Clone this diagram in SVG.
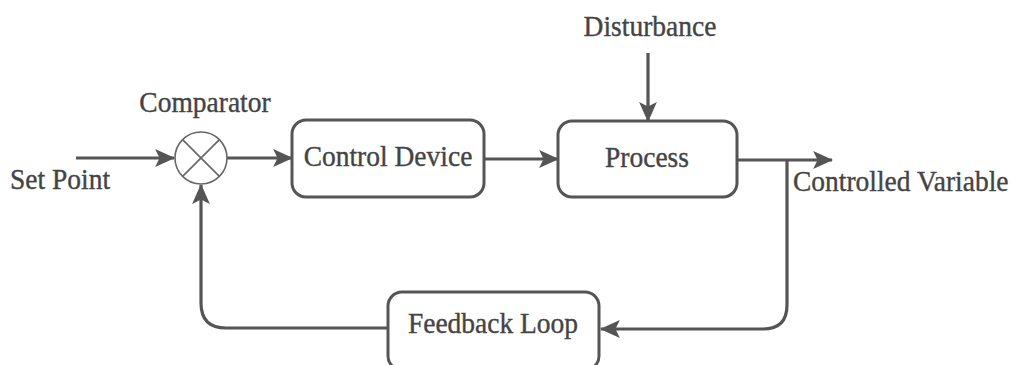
<svg xmlns="http://www.w3.org/2000/svg" width="1019" height="365" viewBox="0 0 1019 365">
<style>
.box{fill:#fff;stroke:#555;stroke-width:3}
.lbl{font-family:"Liberation Serif","DejaVu Serif",serif;font-size:27.5px;fill:#444;stroke:#444;stroke-width:0.35}
.c{text-anchor:middle}
.wire{fill:none;stroke:#555;stroke-width:3.2}
</style>
<defs>
<marker id="arr" markerUnits="userSpaceOnUse" markerWidth="20" markerHeight="18" viewBox="0 0 18 16" refX="17" refY="8" orient="auto">
<path d="M0,0 L18,8 L0,16 L4,8 Z" fill="#555"/>
</marker>
</defs>
<rect width="1019" height="365" fill="#fff"/>
<g id="connectors">
<path class="wire" d="M76 158 H174" marker-end="url(#arr)"/>
<path class="wire" d="M227 158 H292" marker-end="url(#arr)"/>
<path class="wire" d="M484 159 H558" marker-end="url(#arr)"/>
<path class="wire" d="M648 53 V121" marker-end="url(#arr)"/>
<path class="wire" d="M737 160 H832" marker-end="url(#arr)"/>
<path class="wire" d="M787 160 V305 Q787 329 763 329 H601" marker-end="url(#arr)"/>
<path class="wire" d="M388 328 H226 Q201 328 201 303 V185" marker-end="url(#arr)"/>
</g>
<g id="comparator">
<circle cx="201" cy="158" r="26" fill="#fff" stroke="#666" stroke-width="1.6"/>
<path d="M182.6 139.6 L219.4 176.4 M219.4 139.6 L182.6 176.4" stroke="#666" stroke-width="1.6"/>
<text class="lbl c" transform="translate(205 112) scale(1 1.1)">Comparator</text>
</g>
<g id="setpoint">
<text class="lbl" transform="translate(10 189) scale(1 1.1)">Set Point</text>
</g>
<g id="control-device">
<rect class="box" x="292" y="120" width="192" height="77" rx="14"/>
<text class="lbl c" transform="translate(388 166) scale(1 1.1)">Control Device</text>
</g>
<g id="process">
<rect class="box" x="558" y="121" width="179" height="76" rx="14"/>
<text class="lbl c" transform="translate(647 167) scale(1 1.1)">Process</text>
</g>
<g id="disturbance">
<text class="lbl c" transform="translate(650 36) scale(1 1.1)">Disturbance</text>
</g>
<g id="controlled-variable">
<text class="lbl" transform="translate(793 191) scale(1 1.1)">Controlled Variable</text>
</g>
<g id="feedback-loop">
<rect class="box" x="388" y="292" width="211" height="78" rx="14"/>
<text class="lbl c" transform="translate(493 333) scale(1 1.1)">Feedback Loop</text>
</g>
</svg>
